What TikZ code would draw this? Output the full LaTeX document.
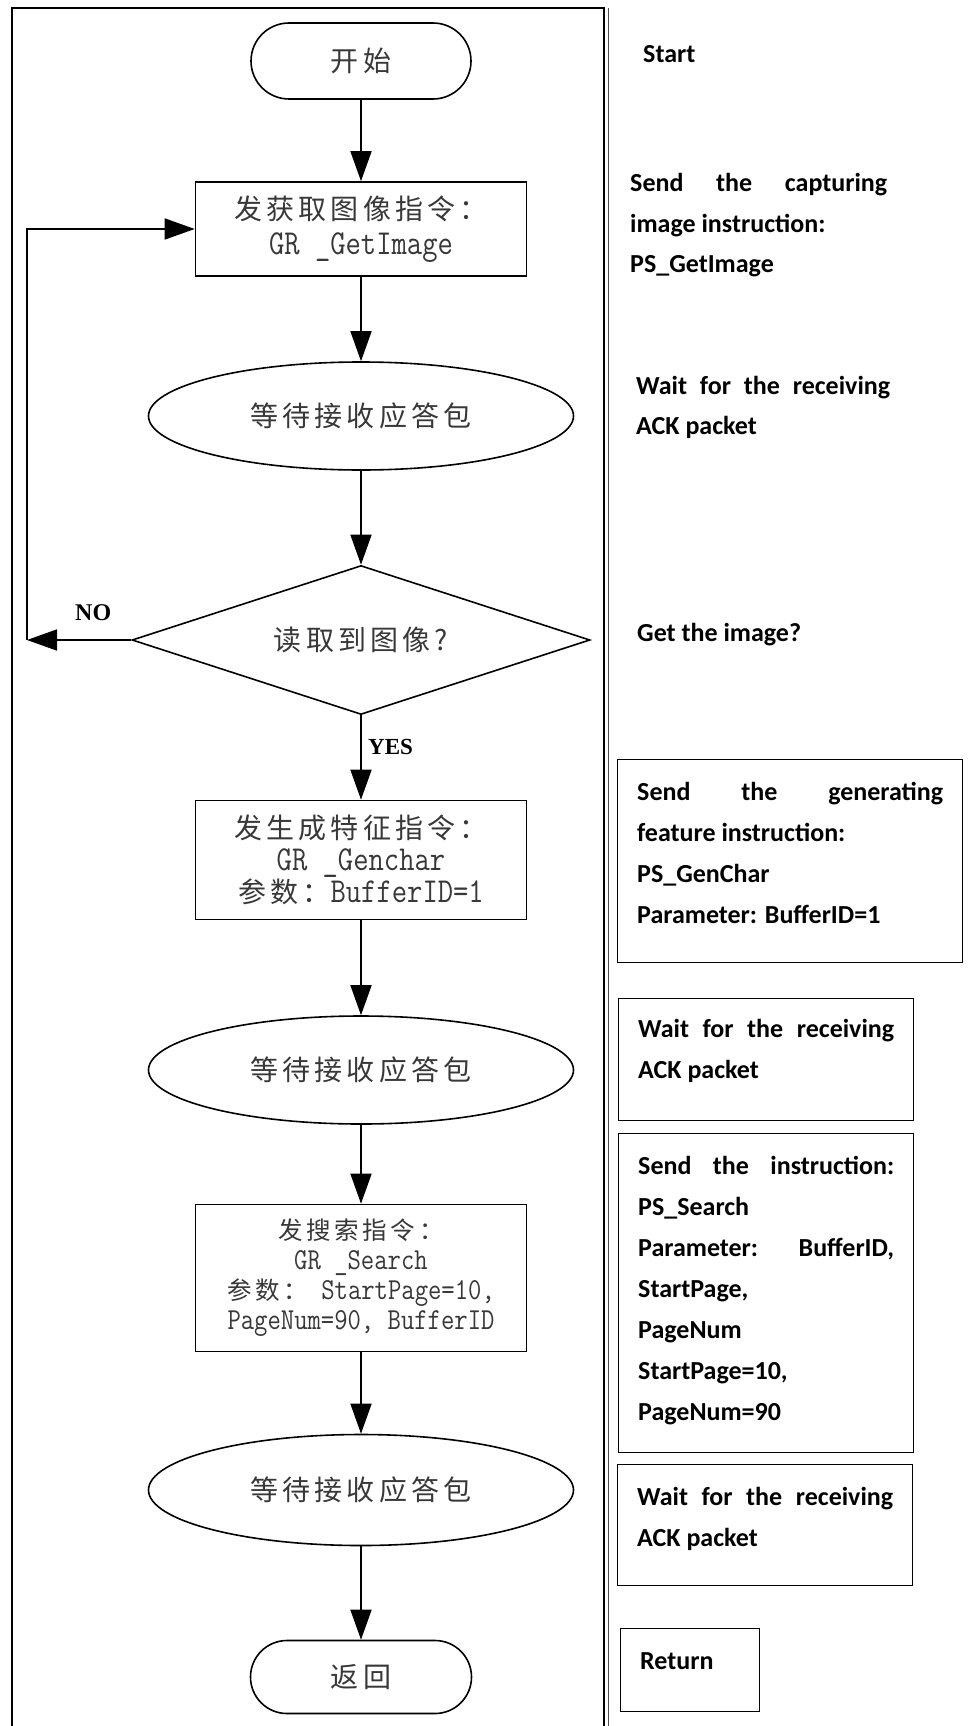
\documentclass[tikz,border=0pt]{standalone}
\usepackage{fontspec}
\setmainfont{Carlito}
\newfontfamily\cjk[LetterSpace=15]{Noto Sans CJK SC}
\newfontfamily\grmono[FakeStretch=0.85]{Latin Modern Mono}
\newfontfamily\lblfont{Liberation Serif}
\usetikzlibrary{shapes.geometric,shapes.misc,arrows.meta}
\newcommand{\jl}[2]{\makebox[#1pt][s]{#2}}
\newcommand{\gm}{\grmono\fontsize{35}{35}\selectfont}
\newcommand{\gms}{\grmono\fontsize{30.5}{30}\selectfont}
\begin{document}
\begin{tikzpicture}[x=1pt,y=-1pt,
  outl/.style={draw=black, line width=1.6pt, inner sep=0pt, text=black!78},
  cjkf/.style 2 args={font=\cjk\fontsize{#1}{#2}\selectfont},
  proc/.style={outl, rectangle, minimum width=331pt, align=center},
  term/.style={outl, rounded rectangle, cjkf={28}{31}},
  wait/.style={outl, ellipse, minimum width=425pt, cjkf={28}{31}},
  dec/.style={outl, diamond, aspect=3, minimum width=458pt, minimum height=149pt, cjkf={28}{31}},
  arr/.style={line width=1.6pt, -{Triangle[length=30pt,width=21pt]}},
  rtext/.style={anchor=base west, inner sep=0pt, font=\bfseries\fontsize{26}{41}\selectfont},
  rbox/.style={draw=black, line width=1.3pt, anchor=north west, inner sep=0pt},
  yn/.style={anchor=base west, inner sep=0pt, font=\lblfont\bfseries\fontsize{24}{24}\selectfont}
]
\fill[white] (0,0) rectangle (970,1726);
\useasboundingbox (0,0) rectangle (970,1726);

% frame
\draw[line width=1.6pt] (12,1726) -- (12,8) -- (604,8) -- (604,1726);
\draw[line width=1.2pt, black!70] (608.5,8) -- (608.5,1726);

% flowchart nodes
\node[term, minimum width=220pt, minimum height=76pt] (start) at (361,61) {开始};
\node[proc, minimum height=94pt, cjkf={28}{35}] (box1) at (361,229)
  {发获取图像指令：\\{\gm GR \_GetImage}};
\node[wait, minimum height=108pt] (ell1) at (361,416) {等待接收应答包};
\node[dec] (dia) at (361,640) {读取到图像?};
\node[proc, minimum height=119pt, cjkf={28}{32}] (box2) at (361,860)
  {发生成特征指令：\\{\gm GR \_Genchar}\\参数：{\gm BufferID=1}};
\node[wait, minimum height=108pt] (ell2) at (361,1070) {等待接收应答包};
\node[proc, minimum height=147pt, cjkf={24.5}{30}] (box3) at (361,1278)
  {发搜索指令：\\{\gms GR \_Search}\\参数：{\gms\ StartPage=10,}\\{\gms PageNum=90, BufferID}};
\node[wait, minimum height=111pt] (ell3) at (361,1490) {等待接收应答包};
\node[term, minimum width=221pt, minimum height=73pt] (ret) at (361,1677) {返回};

% connectors
\draw[arr] (start.south) -- (box1.north);
\draw[arr] (box1.south) -- (ell1.north);
\draw[arr] (ell1.south) -- (dia.north);
\draw[arr] (dia.south) -- (box2.north);
\draw[arr] (box2.south) -- (ell2.north);
\draw[arr] (ell2.south) -- (box3.north);
\draw[arr] (box3.south) -- (ell3.north);
\draw[arr] (ell3.south) -- (ret.north);
\coordinate (noend) at (27,640);
\coordinate (loopc) at (27,229);
\draw[arr] (dia.west) -- (noend);
\draw[arr] (noend) -- (loopc) -- (box1.west);
\node[yn] (nolbl) at (75,620) {NO};
\node[yn, font=\lblfont\bfseries\fontsize{23}{23}\selectfont] (yeslbl) at (368,754) {YES};

% right column
\node[rtext] (t1) at (643,63) {Start};
\node[rtext] (t2a) at (630,191) {\jl{257}{Send the capturing}};
\node[rtext] (t2b) at (630,232) {image instruction:};
\node[rtext] (t2c) at (630,272) {PS\_GetImage};
\node[rtext] (t3a) at (636,394) {\jl{254}{Wait for the receiving}};
\node[rtext] (t3b) at (636,434) {ACK packet};
\node[rtext] (t4) at (637,641) {Get the image?};

\node[rbox, minimum width=345pt, minimum height=203pt] (r1) at (617,759) {};
\node[rtext] (t5a) at (637,800) {\jl{306}{Send the generating}};
\node[rtext] (t5b) at (637,841) {feature instruction:};
\node[rtext] (t5c) at (637,882) {PS\_GenChar};
\node[rtext] (t5d) at (637,923) {Parameter: BufferID=1};

\node[rbox, minimum width=295pt, minimum height=122pt] (r2) at (618,998) {};
\node[rtext] (t6a) at (638,1037) {\jl{256}{Wait for the receiving}};
\node[rtext] (t6b) at (638,1078) {ACK packet};

\node[rbox, minimum width=295pt, minimum height=319pt] (r3) at (618,1133) {};
\node[rtext] (t7a) at (638,1174) {\jl{256}{Send the instruction:}};
\node[rtext] (t7b) at (638,1215) {PS\_Search};
\node[rtext] (t7c) at (638,1256) {\jl{256}{Parameter: BufferID,}};
\node[rtext] (t7d) at (638,1297) {StartPage,};
\node[rtext] (t7e) at (638,1338) {PageNum};
\node[rtext] (t7f) at (638,1379) {StartPage=10,};
\node[rtext] (t7g) at (638,1420) {PageNum=90};

\node[rbox, minimum width=295pt, minimum height=121pt] (r4) at (617,1464) {};
\node[rtext] (t8a) at (637,1505) {\jl{256}{Wait for the receiving}};
\node[rtext] (t8b) at (637,1546) {ACK packet};

\node[rbox, minimum width=139pt, minimum height=83pt] (r5) at (620,1628) {};
\node[rtext] (t9) at (640,1669) {Return};
\end{tikzpicture}
\end{document}
